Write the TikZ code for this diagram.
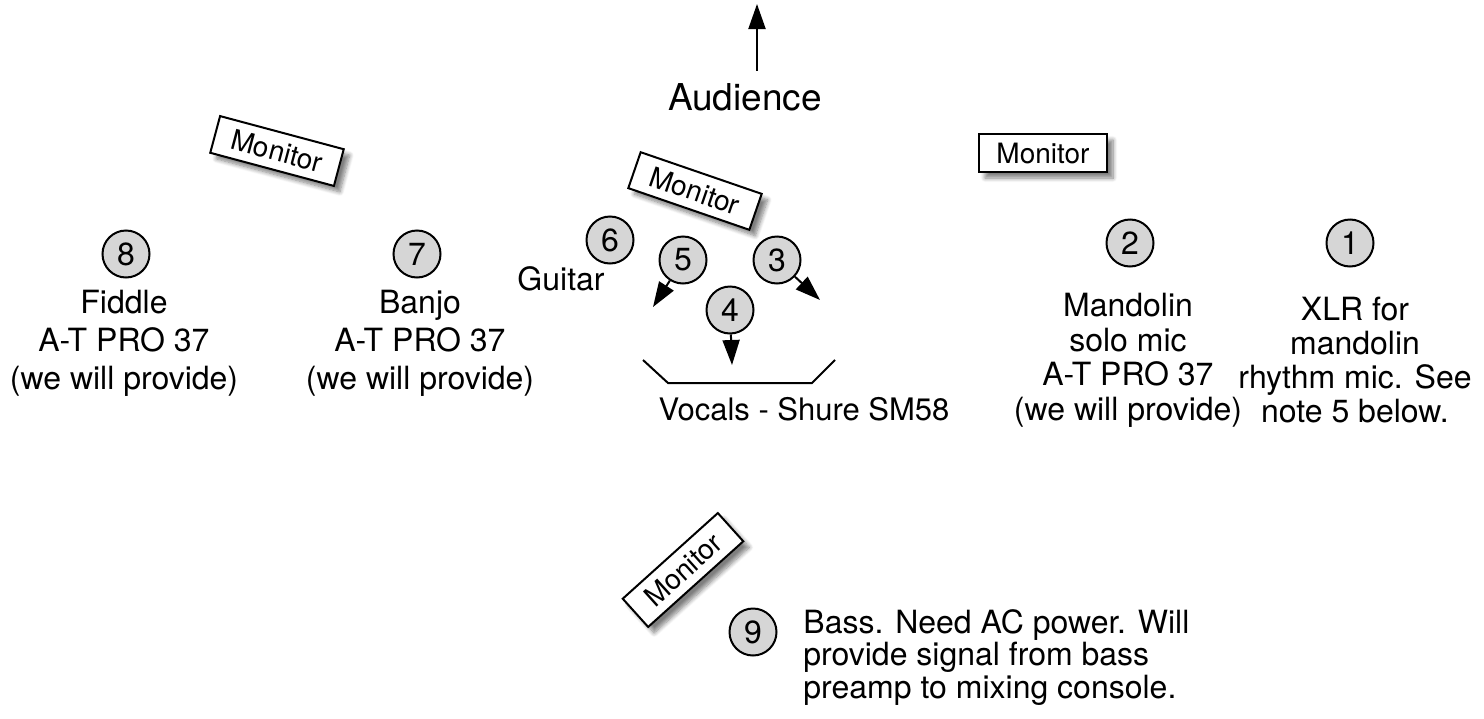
\documentclass[tikz,border=0pt]{standalone}
\usepackage{fontspec}
\setmainfont{TeX Gyre Heros}
\usepackage{tikz}
\usetikzlibrary{arrows.meta,shadows.blur}
\tikzstyle{mic} = [circle,draw,line width=1pt,fill=black!16,minimum size=23.5pt,inner sep=0pt,font=\fontsize{16}{18}\selectfont]
\tikzstyle{monitor} = [draw,fill=white,line width=1pt,minimum width=64pt,minimum height=19pt,inner sep=0pt,font=\fontsize{14}{16}\selectfont,blur shadow={shadow xshift=3pt,shadow yshift=-3pt,shadow blur steps=8,shadow opacity=50}]
\tikzstyle{desc} = [align=center,inner sep=0pt,font=\fontsize{16}{19}\selectfont]
\tikzstyle{arrow} = [line width=1pt,-{Triangle[length=12.5pt,width=8.5pt]}]

\begin{document}
\begin{tikzpicture}[x=0.5pt,y=-0.5pt]
            \useasboundingbox (0,0) rectangle (1484,718);
            \node[desc,font=\fontsize{18.5}{22}\selectfont,inner ysep=6pt,anchor=base] (aud) at (745,110) {Audience};
            \coordinate (front) at (757,4);
            \draw[arrow] (aud.north -| front) -- (front);

            \node[monitor,rotate=-15] (mon8) at (277,151) {Monitor};
            \node[monitor,rotate=-19] (mon4) at (695,191) {Monitor};
            \node[monitor] (mon2) at (1043,153) {Monitor};
            \node[monitor,rotate=42] (mon9) at (683,570) {Monitor};

            \node[mic] (m8) at (126,254) {8};
            \node[mic] (m7) at (417,254) {7};
            \node[mic] (m6) at (610,240) {6};
            \node[mic] (m5) at (683,260) {5};
            \node[mic] (m3) at (777,260) {3};
            \node[mic] (m4) at (730,310) {4};
            \node[mic] (m2) at (1130,243) {2};
            \node[mic] (m1) at (1350,243) {1};
            \node[mic] (m9) at (753,632) {9};

            \node[desc,anchor=base] (fiddle) at (124,389) {Fiddle\\A-T PRO 37\\(we will provide)};
            \node[desc,anchor=base] (banjo) at (420,389) {Banjo\\A-T PRO 37\\(we will provide)};
            \node[desc,anchor=base east] (guitar) at (605,290) {Guitar};
            \node[desc,font=\fontsize{15.5}{18}\selectfont,anchor=base] (vocals) at (804,420) {Vocals - Shure SM58};
            \node[desc,font=\fontsize{16}{17.25}\selectfont,anchor=base] (mando) at (1128,420) {Mandolin\\solo mic\\A-T PRO 37\\(we will provide)};
            \node[desc,font=\fontsize{16}{17}\selectfont,anchor=base] (xlr) at (1355,422) {XLR for\\mandolin\\rhythm mic. See\\note 5 below.};
            \node[desc,align=left,font=\fontsize{16}{16.25}\selectfont,anchor=base west] (bass) at (803,698) {Bass. Need AC power. Will\\provide signal from bass\\preamp to mixing console.};

            \draw[line width=1pt] (643,360) -- (668,383) -- (812,383) -- (835,360);

            \coordinate (t5) at (653,307);
            \coordinate (t3) at (820,300);
            \coordinate (t4) at (732,365);
            \draw[arrow] (m5) -- (t5);
            \draw[arrow] (m3) -- (t3);
            \draw[arrow] (m4) -- (t4);
        \end{tikzpicture}
\end{document}
